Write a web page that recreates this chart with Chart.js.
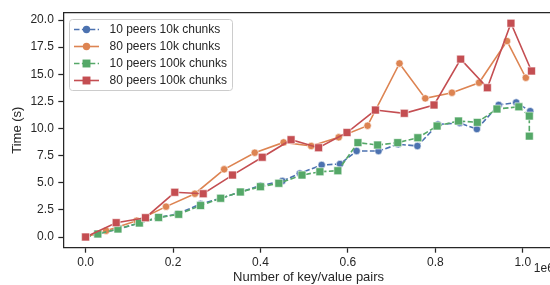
<!DOCTYPE html>
<html lang="en">
<head>
<meta charset="UTF-8" />
<title>Time vs number of key/value pairs</title>
<style>
  body {
    margin: 0; padding: 0;
    background: #fff;
    overflow: hidden;
  }
  /* a bit wider than the window: the right spine sits just past the edge */
  #wrap {
    width: 560px;
    height: 285px;
    position: relative;
  }
</style>
</head>
<body>
<div id="wrap"><canvas id="timeChart"></canvas></div>

<script src="https://cdn.jsdelivr.net/npm/chart.js"></script>
<script>
  // number of key/value pairs (x 1e6) and time in seconds, per run
  const x10p10k = [0, 0.028, 0.074, 0.123, 0.167, 0.21, 0.263, 0.309, 0.354, 0.4, 0.45, 0.49, 0.54, 0.582, 0.62, 0.67, 0.715, 0.759, 0.806, 0.856, 0.895, 0.945, 0.985, 1.017];
  const t10p10k = [0, 0.3, 0.72, 1.3, 1.8, 2.12, 3.05, 3.57, 4.15, 4.74, 5.16, 5.87, 6.64, 6.73, 7.93, 7.93, 8.55, 8.39, 10.38, 10.5, 9.95, 12.17, 12.4, 11.6];

  const x80p10k = [0, 0.047, 0.117, 0.184, 0.25, 0.317, 0.387, 0.453, 0.516, 0.579, 0.645, 0.718, 0.777, 0.838, 0.9, 0.964, 1.007];
  const t80p10k = [0, 0.58, 1.5, 2.8, 3.99, 6.24, 7.77, 8.72, 8.39, 9.19, 10.26, 16.0, 12.78, 13.3, 14.22, 18.06, 14.68];

  const x10p100k = [0, 0.028, 0.074, 0.123, 0.167, 0.213, 0.263, 0.309, 0.354, 0.4, 0.442, 0.495, 0.536, 0.577, 0.623, 0.668, 0.714, 0.76, 0.804, 0.853, 0.896, 0.941, 0.991, 1.015, 1.015];
  const t10p100k = [0, 0.28, 0.74, 1.29, 1.8, 2.09, 2.9, 3.57, 4.15, 4.64, 4.95, 5.71, 6.02, 6.11, 8.7, 8.48, 8.7, 9.15, 10.23, 10.69, 10.57, 11.8, 12.0, 11.15, 9.3];

  const x80p100k = [0, 0.07, 0.137, 0.204, 0.269, 0.336, 0.404, 0.47, 0.533, 0.598, 0.663, 0.729, 0.797, 0.858, 0.919, 0.973, 1.02];
  const t80p100k = [0, 1.32, 1.78, 4.12, 3.99, 5.71, 7.35, 8.97, 8.23, 9.63, 11.7, 11.4, 12.17, 16.4, 13.76, 19.7, 15.3];

  const xTicks = [0, 0.2, 0.4, 0.6, 0.8, 1.0];
  const yTicks = [0, 2.5, 5, 7.5, 10, 12.5, 15, 17.5, 20];

  const ink = '#262626';
  const font = { family: "'Liberation Sans', Arial, sans-serif", size: 12 };

  const toPoints = (xs, ys) => xs.map((x, i) => ({ x: x, y: ys[i] }));

  function series(label, xs, ys, color, style, dashed, order) {
    return {
      label: label,
      data: toPoints(xs, ys),
      showLine: true,
      borderColor: color,
      backgroundColor: color,
      borderWidth: 1.6,
      borderDash: dashed ? [5.5, 2.4] : [],
      pointStyle: style,
      pointRadius: style === 'rect' ? 5.6 : 3.7,
      pointBorderColor: '#ffffff',
      pointBorderWidth: 0.6,
      pointBackgroundColor: color,
      order: order
    };
  }

  // matplotlib-like frame: top and right spines, legend, offset text
  const extras = {
    id: 'extras',
    afterDraw(chart) {
      const ctx = chart.ctx;
      const a = chart.chartArea;
      ctx.save();
      ctx.strokeStyle = ink;
      ctx.lineWidth = 1.25;
      ctx.beginPath();
      ctx.moveTo(a.left, a.top);
      ctx.lineTo(a.right, a.top);
      ctx.lineTo(a.right, a.bottom);
      ctx.stroke();

      // legend
      ctx.fillStyle = 'rgba(255,255,255,0.8)';
      ctx.strokeStyle = '#cccccc';
      ctx.lineWidth = 1;
      ctx.beginPath();
      if (ctx.roundRect) ctx.roundRect(69.5, 19.5, 163, 71, 3);
      else ctx.rect(69.5, 19.5, 163, 71);
      ctx.fill();
      ctx.stroke();

      chart.data.datasets.forEach((ds, i) => {
        const y = 29.5 + i * 17;
        ctx.strokeStyle = ds.borderColor;
        ctx.lineWidth = ds.borderWidth;
        ctx.setLineDash(ds.borderDash);
        ctx.beginPath();
        ctx.moveTo(74, y);
        ctx.lineTo(99, y);
        ctx.stroke();
        ctx.setLineDash([]);
        ctx.fillStyle = ds.pointBackgroundColor;
        ctx.beginPath();
        if (ds.pointStyle === 'rect') {
          const s = ds.pointRadius * Math.SQRT1_2;
          ctx.rect(86.5 - s, y - s, 2 * s, 2 * s);
        } else {
          ctx.arc(86.5, y, ds.pointRadius, 0, Math.PI * 2);
        }
        ctx.fill();
        ctx.fillStyle = ink;
        ctx.font = "12px 'Liberation Sans', Arial, sans-serif";
        ctx.textAlign = 'left';
        ctx.textBaseline = 'middle';
        ctx.fillText(ds.label, 109.5, y + 0.5);
      });

      // scale offset text of the x axis
      ctx.textAlign = 'right';
      ctx.fillText('1e6', a.right, 269);
      ctx.restore();
    }
  };

  const ctx = document.getElementById('timeChart').getContext('2d');
  new Chart(ctx, {
    type: 'scatter',
    data: {
      datasets: [
        series('10 peers 10k chunks', x10p10k, t10p10k, '#4C72B0', 'circle', true, 4),
        series('80 peers 10k chunks', x80p10k, t80p10k, '#DD8452', 'circle', false, 3),
        series('10 peers 100k chunks', x10p100k, t10p100k, '#55A868', 'rect', true, 2),
        series('80 peers 100k chunks', x80p100k, t80p100k, '#C44E52', 'rect', false, 1)
      ]
    },
    options: {
      responsive: true,
      maintainAspectRatio: false,
      animation: false,
      events: [],
      layout: { padding: { top: 12.6, right: 4, bottom: 0, left: 0 } },
      plugins: {
        legend: { display: false },
        tooltip: { enabled: false }
      },
      scales: {
        x: {
          type: 'linear',
          min: -0.051,
          max: 1.071,
          afterBuildTicks: s => { s.ticks = xTicks.map(v => ({ value: v })); },
          afterFit: s => { s.height = 37.3; },
          ticks: {
            color: ink, font: font, padding: 3, maxRotation: 0,
            callback: v => v.toFixed(1)
          },
          grid: { drawOnChartArea: false, drawTicks: true, tickLength: 5, tickColor: ink, tickWidth: 1.25 },
          border: { color: ink, width: 1.25 },
          title: {
            display: true, text: 'Number of key/value pairs', color: ink,
            font: { family: font.family, size: 13 }, padding: { top: 0, bottom: 0 }
          }
        },
        y: {
          type: 'linear',
          min: -0.985,
          max: 20.685,
          afterBuildTicks: s => { s.ticks = yTicks.map(v => ({ value: v })); },
          afterFit: s => { s.width = 63.3; },
          ticks: {
            color: ink, font: font, padding: 4.5,
            callback: v => v.toFixed(1)
          },
          grid: { drawOnChartArea: false, drawTicks: true, tickLength: 5, tickColor: ink, tickWidth: 1.25 },
          border: { color: ink, width: 1.25 },
          title: {
            display: true, text: 'Time (s)', color: ink,
            font: { family: font.family, size: 13 }, padding: { top: 10, bottom: 0 }
          }
        }
      }
    },
    plugins: [extras]
  });
</script>
</body>
</html>
